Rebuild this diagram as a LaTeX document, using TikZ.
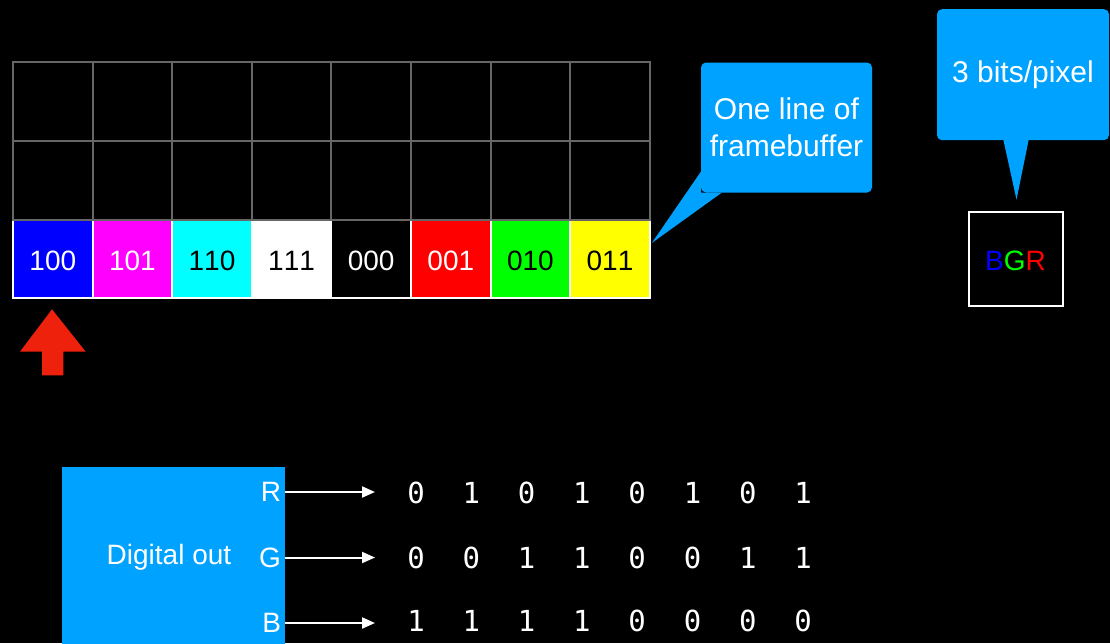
\documentclass[tikz,border=0pt]{standalone}
\usepackage{fontspec}
\setmainfont[Kerning=Off]{Liberation Sans}
\newfontfamily\monofont{DejaVu Sans Mono}
\usetikzlibrary{arrows.meta,calc}
\definecolor{kblue}{HTML}{00A2FF}
\definecolor{kred}{HTML}{EE220C}
\definecolor{gridgray}{HTML}{666666}
\definecolor{pxblue}{HTML}{0000FF}
\definecolor{pxmag}{HTML}{FF00FF}
\definecolor{pxcyan}{HTML}{00FFFF}
\definecolor{pxwhite}{HTML}{FFFFFF}
\definecolor{pxblack}{HTML}{000000}
\definecolor{pxred}{HTML}{FF0000}
\definecolor{pxgreen}{HTML}{00FF00}
\definecolor{pxyel}{HTML}{FFFF00}
\begin{document}
\begin{tikzpicture}[x=1pt,y=-1pt,
  every node/.style={font=\fontsize{28}{36}\selectfont, inner sep=0pt, outer sep=0pt},
  gridcell/.style={draw=gridgray, line width=2pt, minimum width=79.6pt, minimum height=79pt},
  pixcell/.style={draw=white, line width=2pt, minimum width=79.6pt, minimum height=78pt},
  pixtext/.style={font=\fontsize{28}{36}\selectfont},
  callout/.style={fill=kblue, text=white, rounded corners=5pt, align=center,
    font=\fontsize{30}{37}\selectfont},
  pinlabel/.style={text=white, anchor=east},
  sig/.style={white, line width=2pt, -{Triangle[length=13pt,width=11pt]}},
  bit/.style={text=white, font=\monofont\fontsize{29}{34}\selectfont}
]
\fill[black] (0,0) rectangle (1110,643);
\useasboundingbox (0,0) rectangle (1110,643);

% bottom row of pixels
\foreach \lab/\fc/\tc [count=\i from 0] in
  {100/pxblue/white,101/pxmag/white,110/pxcyan/black,111/pxwhite/black,
   000/pxblack/white,001/pxred/white,010/pxgreen/black,011/pxyel/black}
  {
  \node[pixcell, fill=\fc] (p\i) at ({52.8+79.6*\i},259) {};
  \node[pixtext, text=\tc] (t\i) at ($(p\i.center)+(0,2)$) {\lab};
  }

% upper empty rows
\foreach \r in {0,1}
  \foreach \i in {0,...,7}
    \node[gridcell] (g\r\i) at ({52.8+79.6*\i},{101.5+79*\r}) {};

% callout: one line of framebuffer
\node[callout, minimum width=171pt, minimum height=130pt] (cb1) at (786.5,127.5) {One line of\\framebuffer};
\fill[kblue] ($(cb1.south west)+(0,-21)$) -- (cb1.south west) -- ($(cb1.south west)+(21,0)$)
  -- ($(p7.north east)+(2,23)$) -- cycle;

% BGR box and callout
\node[draw=white, line width=2pt, minimum width=94pt, minimum height=94pt] (bgr) at (1015.5,258.7) {};
\node (bgrtext) at ($(bgr.center)+(0,2)$) {\textcolor{pxblue}{B}\textcolor{pxgreen}{G}\textcolor{pxred}{R}};
\node[callout, minimum width=172pt, minimum height=131pt] (cb2) at (1023,74.7) {3 bits/pixel};
\fill[kblue] ($(cb2.south)+(-20,-2)$) -- ($(cb2.south)+(6,-2)$) -- ($(bgr.north)+(1,-12)$) -- cycle;

% red pointer arrow
\fill[kred] (52,309.3) -- (85.7,351.7) -- (63.3,351.7) -- (63.3,375.3) -- (42,375.3)
  -- (42,351.7) -- (20,351.7) -- cycle;

% digital out block
\node[fill=kblue, minimum width=223pt, minimum height=180pt, anchor=north west] (dout) at (62.3,466.7) {};
\node[text=white] (dtext) at (169,557.5) {Digital out};
\node[pinlabel] (rl) at (281,492) {R};
\node[pinlabel] (gl) at (281,557.5) {G};
\node[pinlabel] (bl) at (281,623) {B};
\coordinate (ra) at (375,492);
\coordinate (ga) at (375,557.5);
\coordinate (ba) at (375,623);
\draw[sig] (dout.east |- rl.center) -- (ra);
\draw[sig] (dout.east |- gl.center) -- (ga);
\draw[sig] (dout.east |- bl.center) -- (ba);

% bit streams
\foreach \v [count=\c from 0] in {0,1,0,1,0,1,0,1}
  \node[bit] (dr\c) at ({416+55.3*\c},493) {\v};
\foreach \v [count=\c from 0] in {0,0,1,1,0,0,1,1}
  \node[bit] (dg\c) at ({416+55.3*\c},557.5) {\v};
\foreach \v [count=\c from 0] in {1,1,1,1,0,0,0,0}
  \node[bit] (db\c) at ({416+55.3*\c},621) {\v};
\end{tikzpicture}
\end{document}
